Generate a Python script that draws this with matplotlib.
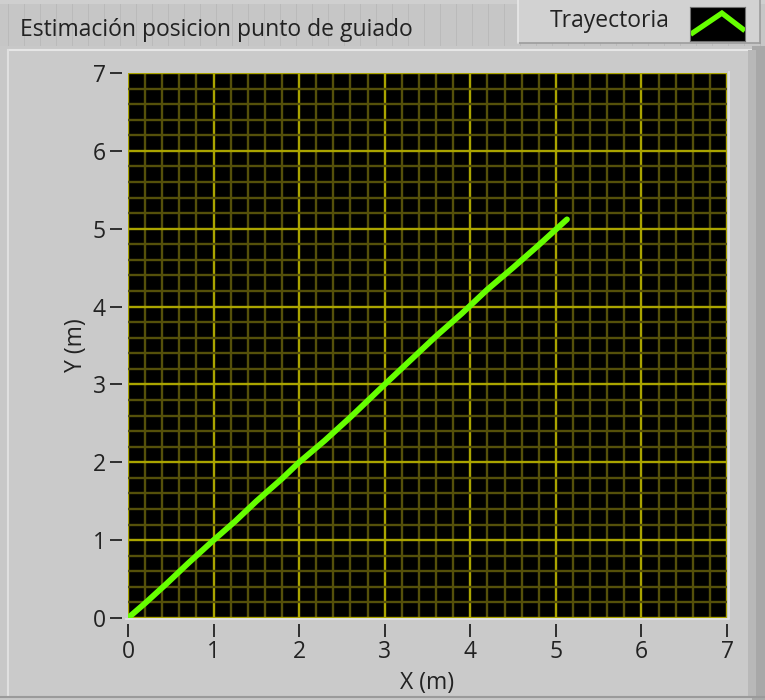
#!/usr/bin/env python3
"""Estimated guidance point trajectory (XY graph, front-panel style)."""
import matplotlib
matplotlib.use("Agg")
import matplotlib.pyplot as plt
from matplotlib.patches import Rectangle
from matplotlib.lines import Line2D
from matplotlib.ticker import MultipleLocator

# trajectory samples (m)
X_M = [0.00, 0.20, 0.45, 0.70, 1.00, 1.25, 1.50, 1.80, 2.00, 2.30,
       2.60, 3.00, 3.30, 3.60, 3.90, 4.20, 4.50, 4.80, 5.00, 5.13]
Y_M = [0.00, 0.19, 0.44, 0.70, 1.00, 1.24, 1.50, 1.79, 2.00, 2.28,
       2.58, 3.00, 3.31, 3.62, 3.91, 4.22, 4.50, 4.79, 4.99, 5.12]

TITLE = "Estimación posicion punto de guiado"
SERIES = "Trayectoria"
X_LABEL = "X (m)"
Y_LABEL = "Y (m)"
TICKS = [0, 1, 2, 3, 4, 5, 6, 7]

BG = "#c4c4c4"
PANEL = "#c8c8c8"
GREEN = "#66ff00"
GRID_MAJ = "#aaa400"
GRID_MIN = "#55500a"
INK = "#222222"
FS = 16.5

plt.rcParams.update({"font.family": ["Open Sans", "DejaVu Sans"]})

W, H = 765, 700
fig = plt.figure(figsize=(W / 100, H / 100), dpi=100)
fig.patch.set_facecolor(BG)


def px_rect(x0, y0, x1, y1, **kw):
    """Rectangle in pixel coords (origin top-left), behind the axes."""
    r = Rectangle((x0 / W, 1 - y1 / H), (x1 - x0) / W, (y1 - y0) / H,
                  transform=fig.transFigure, zorder=-5, **kw)
    fig.add_artist(r)


def px_line(xs, ys, **kw):
    ln = Line2D([x / W for x in xs], [1 - y / H for y in ys],
                transform=fig.transFigure, zorder=-5, **kw)
    fig.add_artist(ln)


# top band with faint panel grid
px_rect(0, 0, W, 46, facecolor="#c6c6c6", edgecolor="none")
for gx in range(8, W, 16):
    px_line([gx, gx], [0, 46], color="#b8b8b8", lw=0.6)
px_rect(0, 0, W, 4, facecolor="#cfcfcf", edgecolor="none")

# graph frame
px_rect(0, 46, W, H, facecolor=PANEL, edgecolor="none")
px_rect(8, 50, 756, 697, facecolor="#cacaca", edgecolor="none")
px_line([8, 756], [50, 50], color="#e6e6e6", lw=1.5)
px_line([8, 8], [50, 697], color="#e0e0e0", lw=1.5)
px_rect(752, 46, 765, H, facecolor="#a8a8a8", edgecolor="none")
px_rect(748, 50, 756, 697, facecolor="#b8b8b8", edgecolor="none")
px_line([0, W], [697, 697], color="#9a9a9a", lw=1.5)

# legend box
px_rect(518, 0, 760, 43, facecolor="#d2d2d2", edgecolor="none")
px_line([518, 760], [43, 43], color="#9c9c9c", lw=1.2)
px_line([760, 760], [0, 43], color="#9c9c9c", lw=1.2)
px_line([518, 518], [0, 43], color="#e8e8e8", lw=1.2)

# plot area outline
px_line([126, 729, 729], [618.5, 618.5, 72], color="#e4e4e4", lw=1.2)

fig.text(20 / W, 1 - 30 / H, TITLE, fontsize=FS, color=INK,
         ha="left", va="center")
fig.text(670 / W, 1 - 21 / H, SERIES, fontsize=FS, color=INK,
         ha="right", va="center")

# legend swatch
sw = fig.add_axes([690 / W, 1 - 41 / H, 55 / W, 34 / H])
sw.set_facecolor("black")
sw.plot([0.05, 0.58, 0.96], [0.24, 0.82, 0.35], color=GREEN, lw=3.8,
        solid_joinstyle="miter")
sw.set_xlim(0, 1)
sw.set_ylim(0, 1)
sw.set_xticks([])
sw.set_yticks([])
for s in sw.spines.values():
    s.set_color("#707070")

# main plot
ax = fig.add_axes([128 / W, 1 - 618 / H, 599 / W, 545 / H])
ax.set_facecolor("black")
ax.plot(X_M, Y_M, color=GREEN, lw=4.2, solid_capstyle="round",
        solid_joinstyle="round")

ax.set_xlim(TICKS[0], TICKS[-1])
ax.set_ylim(TICKS[0], TICKS[-1])
ax.set_xticks(TICKS)
ax.set_yticks(TICKS)
ax.xaxis.set_minor_locator(MultipleLocator(0.2))
ax.yaxis.set_minor_locator(MultipleLocator(0.2))
ax.grid(which="minor", color=GRID_MIN, lw=1.7)
ax.grid(which="major", color=GRID_MAJ, lw=1.7)
ax.set_axisbelow(True)
ax.tick_params(which="minor", length=0)
ax.tick_params(which="major", direction="out", length=9, width=1.3,
               color=INK, labelsize=FS, labelcolor=INK, pad=3)
for side in ("bottom", "left"):
    ax.spines[side].set_position(("outward", 4))
for s in ax.spines.values():
    s.set_visible(False)

ax.set_xlabel(X_LABEL, fontsize=FS, color=INK, labelpad=5)
ax.set_ylabel(Y_LABEL, fontsize=FS, color=INK, labelpad=3)

fig.savefig("out.png", dpi=100, facecolor=fig.get_facecolor())
